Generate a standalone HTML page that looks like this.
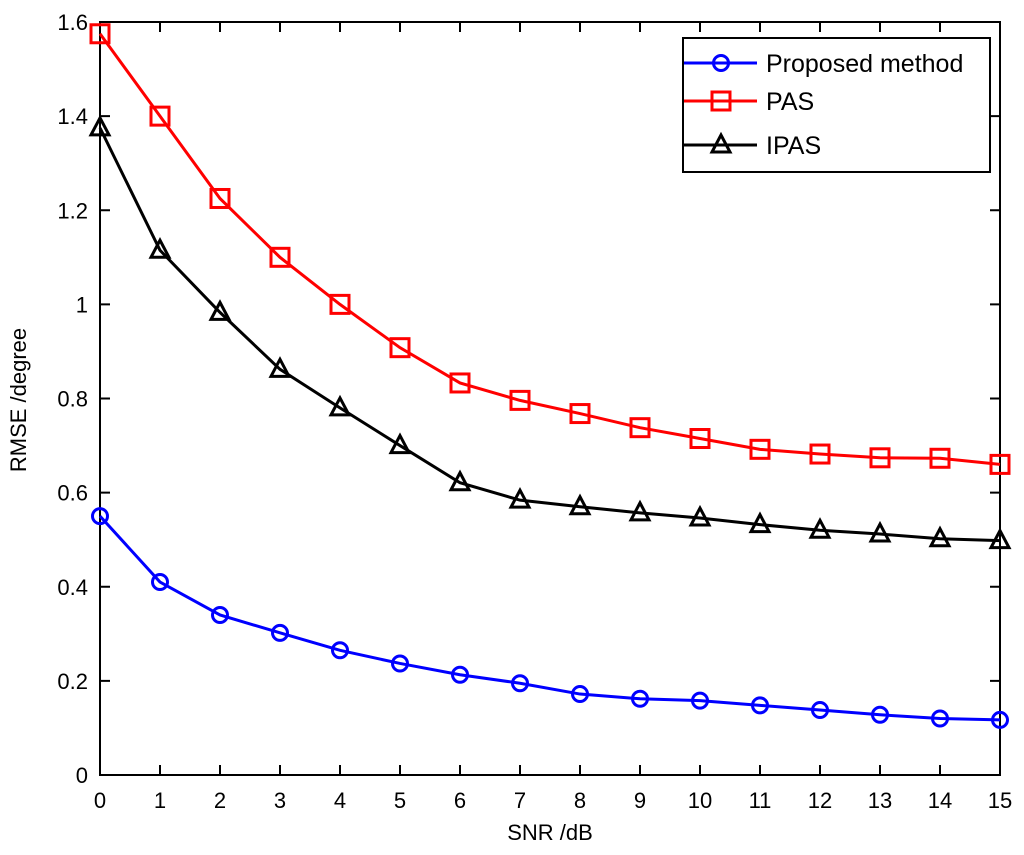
<!DOCTYPE html>
<html><head><meta charset="utf-8"><style>
html,body{margin:0;padding:0;background:#fff;}
svg{display:block;font-family:"Liberation Sans",Arial,sans-serif;}
</style></head><body>
<svg id="chart" width="1024" height="855">
<rect width="1024" height="855" fill="#fff"/>
<g id="grid"></g>
<g id="series"></g>
<g id="legend"></g>
</svg>
<script>
const snr = [0,1,2,3,4,5,6,7,8,9,10,11,12,13,14,15];
const proposed = [0.55,0.41,0.34,0.302,0.265,0.237,0.213,0.195,0.172,0.162,0.158,0.148,0.138,0.128,0.12,0.117];
const pas = [1.575,1.40,1.225,1.10,1.0,0.908,0.833,0.796,0.768,0.738,0.715,0.692,0.682,0.674,0.673,0.660];
const ipas = [1.375,1.115,0.983,0.862,0.78,0.70,0.621,0.584,0.57,0.557,0.546,0.532,0.52,0.512,0.502,0.498];
const yTicks = [0,0.2,0.4,0.6,0.8,1,1.2,1.4,1.6];
const yTickLabels = ["0","0.2","0.4","0.6","0.8","1","1.2","1.4","1.6"];

const L=100,R=1000,T=22,B=775;
const xs=v=>L+(v-0)/(15-0)*(R-L);
const ys=v=>B-(v/1.6)*(B-T);
const NS="http://www.w3.org/2000/svg";
function mk(tag,attrs,parent){const e=document.createElementNS(NS,tag);for(const k in attrs)e.setAttribute(k,attrs[k]);parent.appendChild(e);return e;}
const g=document.getElementById('grid');
// axes box
const box=mk('rect',{x:L,y:T,width:R-L,height:B-T,fill:'none',stroke:'#000','stroke-width':2},g);


snr.forEach(v=>{
  const x=xs(v);
  if(v>0&&v<15){mk('line',{x1:x,y1:B,x2:x,y2:B-10,stroke:'#000','stroke-width':2},g);mk('line',{x1:x,y1:T,x2:x,y2:T+10,stroke:'#000','stroke-width':2},g);}
  const t=mk('text',{x:x,y:B+33,'text-anchor':'middle','font-size':22,fill:'#000'},g);t.textContent=String(v);
  
  
});
yTicks.forEach((v,i)=>{
  const y=ys(v);
  if(i>0&&i<yTicks.length-1){mk('line',{x1:L,y1:y,x2:L+10,y2:y,stroke:'#000','stroke-width':2},g);mk('line',{x1:R,y1:y,x2:R-10,y2:y,stroke:'#000','stroke-width':2},g);}
  const t=mk('text',{x:L-12,y:y+8,'text-anchor':'end','font-size':22,fill:'#000'},g);t.textContent=yTickLabels[i];
  
  
});
const xt=mk('text',{x:550,y:840,'text-anchor':'middle','font-size':22},g);xt.textContent='SNR /dB';


const yt=mk('text',{x:0,y:0,'text-anchor':'middle','font-size':22,transform:'translate(26,400) rotate(-90)'},g);yt.textContent='RMSE /degree';



function marker(type,x,y,color,parent){
  let m;
  if(type==='circle')m=mk('circle',{cx:x,cy:y,r:7.5,fill:'none',stroke:color,'stroke-width':3},parent);
  else if(type==='square')m=mk('rect',{x:x-9,y:y-9,width:18,height:18,fill:'none',stroke:color,'stroke-width':3},parent);
  else m=mk('polygon',{points:`${x},${y-10} ${x-9},${y+7} ${x+9},${y+7}`,fill:'none',stroke:color,'stroke-width':3},parent);
  return m;
}
const sg=document.getElementById('series');
const defs=[[proposed,'#0000ff','circle','proposed'],[pas,'#ff0000','square','pas'],[ipas,'#000','triangle','ipas']];
defs.forEach(([data,c,type,name])=>{
  const grp=mk('g',{},sg);
  
  
  mk('polyline',{points:data.map((v,i)=>xs(snr[i])+','+ys(v)).join(' '),fill:'none',stroke:c,'stroke-width':3},grp);
  data.forEach((v,i)=>{const m=marker(type,xs(snr[i]),ys(v),c,grp);
    
    });
});
const lg=document.getElementById('legend');
const lb=mk('rect',{x:683,y:38,width:307,height:134,fill:'#fff',stroke:'#000','stroke-width':2},lg);


const labels=['Proposed method','PAS','IPAS'];const rowsY=[63,101,145];
defs.forEach(([d,c,type,name],i)=>{
  const y=rowsY[i];
  const grp=mk('g',{},lg);
  
  
  mk('line',{x1:684,y1:y,x2:757,y2:y,stroke:c,'stroke-width':3},grp);
  marker(type,721,y,c,grp);
  const t=mk('text',{x:766,y:y+9,'font-size':25},grp);t.textContent=labels[i];
});
</script>
</body></html>
